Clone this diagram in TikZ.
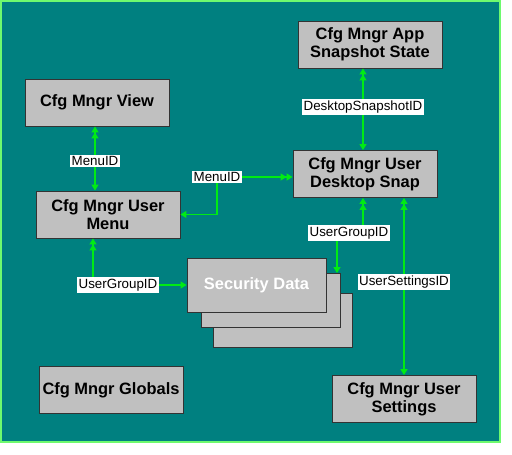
\documentclass[tikz,border=0pt]{standalone}
\usepackage{fontspec}
\setmainfont{Liberation Sans}
\usetikzlibrary{arrows.meta}
\definecolor{CfgTeal}{RGB}{0,128,128}
\definecolor{CfgGray}{RGB}{192,192,192}
\definecolor{CfgLime}{RGB}{0,235,20}
\definecolor{CfgFrame}{RGB}{110,250,110}
\tikzset{gtip/.tip={Triangle[length=6bp,width=7bp]}}

\begin{document}
\begin{tikzpicture}[x=1bp,y=-1bp,
    table/.style={rectangle,draw=black!80,fill=CfgGray,line width=0.9bp,minimum width=144bp,minimum height=47bp,align=center,font=\fontsize{16.5}{18.5}\selectfont\bfseries},
    layer/.style={table,minimum width=139bp,minimum height=54bp,text=white},
    idlabel/.style={rectangle,fill=white,inner xsep=1.2bp,inner ysep=1.8bp,font=\fontsize{13.4}{14}\selectfont},
    rel/.style={draw=CfgLime,line width=1.3bp,{gtip[]gtip[]}-{gtip[]}}]
    \useasboundingbox (0,0) rectangle (512,455);
    \fill[CfgTeal,draw=CfgFrame,line width=1.5bp] (1,1) rectangle (500,442);

    % tables
    \node[table] (view) at (97,102.5) {Cfg Mngr View};
    \node[table] (menu) at (108,214.5) {Cfg Mngr User\\Menu};
    \node[table] (app) at (370,44.5) {Cfg Mngr App\\Snapshot State};
    \node[table] (desktop) at (365,174) {Cfg Mngr User\\Desktop Snap};
    \node[table] (globals) at (111,390) {Cfg Mngr Globals};
    \node[table] (settings) at (404,399) {Cfg Mngr User\\Settings};

    % security data, stacked
    \node[layer] (secC) at (282.5,320) {};
    \node[layer] (secB) at (271,300.5) {};
    \node[layer] (secA) at (256.5,285) {Security Data};

    % knees of the bent links
    \coordinate (menuknee) at (217,177);
    \coordinate (groupknee) at (93,285);
    \coordinate (deskknee) at (337,233);

    % links
    \draw[rel] ([xshift=-2bp]view.south) -- ([xshift=-2bp]view.south |- menu.north);
    \draw[rel] (desktop.west |- menuknee) -- (menuknee) |- (menu.east);
    \draw[rel] ([xshift=-2bp]app.south -| desktop) -- ([xshift=-2bp]desktop.north);
    \draw[rel] (groupknee |- menu.south) -- (groupknee) -- (secA.west);
    \draw[rel] ([xshift=-2bp]desktop.south) |- (deskknee) -- (deskknee |- secB.north);
    \draw[rel] (settings.north |- desktop.south) -- (settings.north);

    % link labels
    \node[idlabel] (viewid) at (95,161) {MenuID};
    \node[idlabel] (menuid) at (menuknee) {MenuID};
    \node[idlabel] (snapid) at (363,107) {DesktopSnapshotID};
    \node[idlabel] (groupid) at (118,285) {UserGroupID};
    \node[idlabel] (deskgroupid) at (349,233) {UserGroupID};
    \node[idlabel] (settingsid) at (404,282) {UserSettingsID};
\end{tikzpicture}
\end{document}
